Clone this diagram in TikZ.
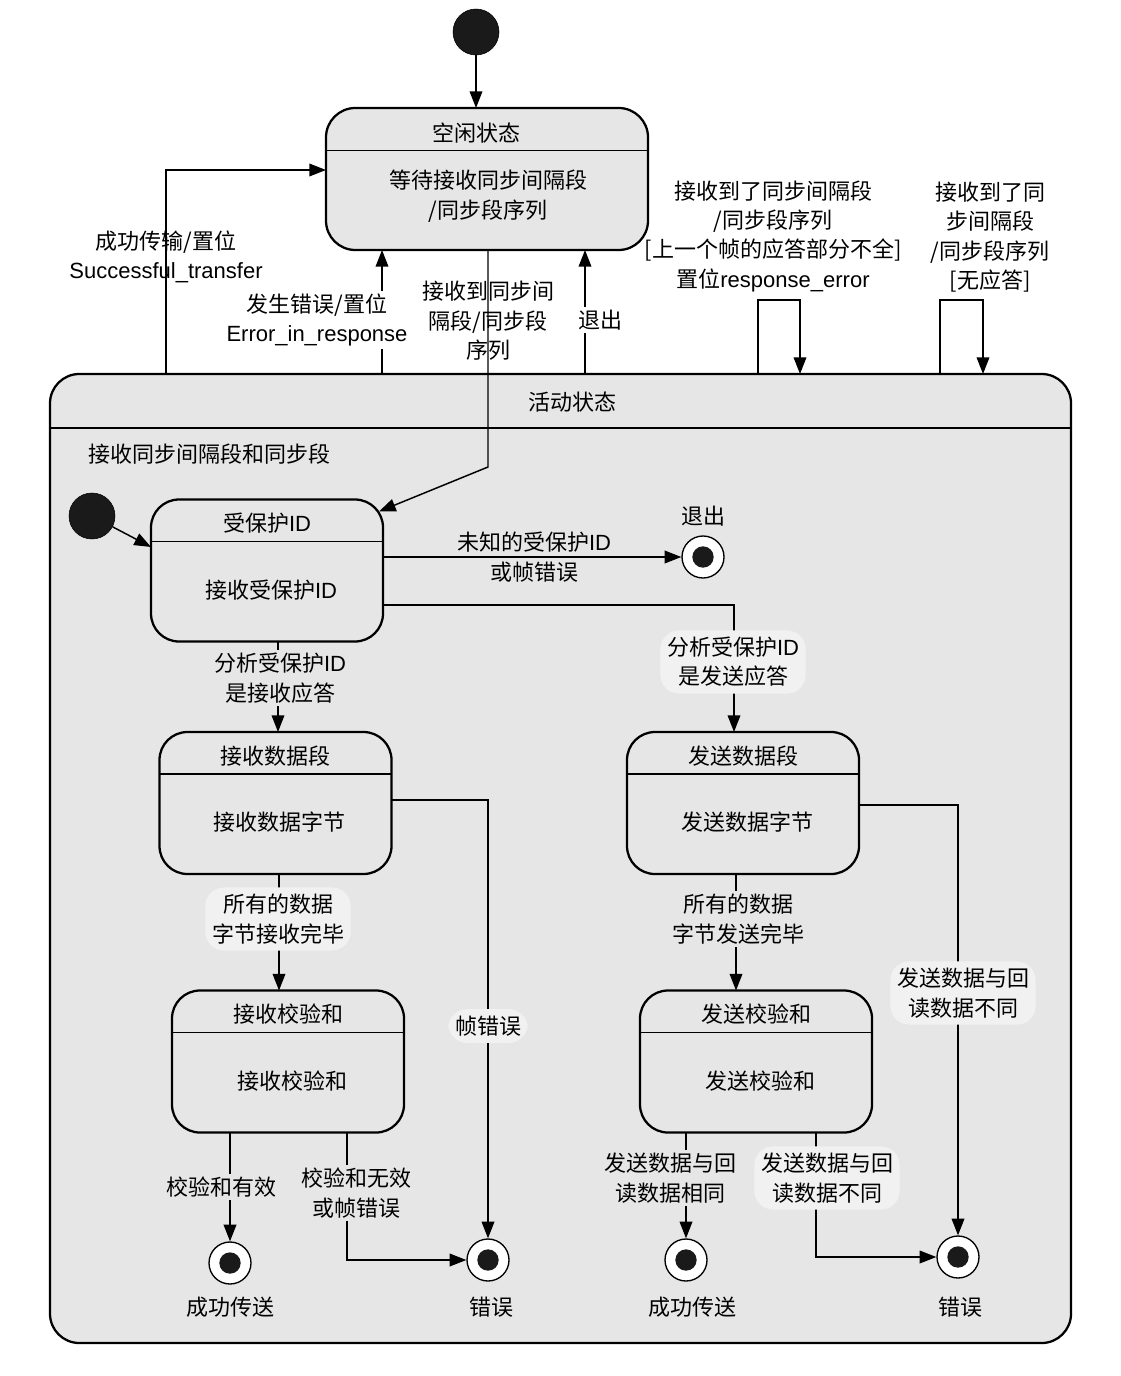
\documentclass[tikz,border=0pt]{standalone}
\usepackage{fontspec}
\setmainfont{Noto Sans CJK SC}
\newfontfamily\enfont{Liberation Sans}
\newcommand\en[1]{{\enfont #1}}
\usetikzlibrary{arrows.meta}
\definecolor{statefill}{HTML}{E6E6E6}
\definecolor{notefill}{HTML}{F1F1F1}
\definecolor{dotfill}{HTML}{1A1A1A}

% a state box: name, centre, title, body
\newcommand\statebox[4]{%
  \node[state] (#1) at (#2) {};
  \draw[line width=1pt] ([yshift=-31.5pt]#1.north west) -- ([yshift=-31.5pt]#1.north east);
  \node (#1-title) at ([yshift=-18pt]#1.north) {#3};
  \node (#1-body) at ([xshift=3pt,yshift=-14.6pt]#1.center) {#4};
}

\begin{document}
\begin{tikzpicture}
      [x=0.75pt,y=-0.75pt,
       every node/.style={font=\fontsize{16.5pt}{22pt}\selectfont,align=center,inner sep=2pt},
       state/.style={draw,line width=1.7pt,rounded corners=21pt,fill=statefill,outer sep=0pt,
                     minimum width=174pt,minimum height=106.5pt},
       start/.style={circle,draw,fill=dotfill,minimum size=34.5pt,inner sep=0pt},
       stop/.style={circle,draw,line width=1pt,fill=white,minimum size=31.5pt,inner sep=0pt,
                    path picture={\fill[dotfill] (path picture bounding box.center) circle (8pt);}},
       arr/.style={line width=1.1pt,-{Triangle[length=12.5pt,width=9.5pt]}},
       dark/.style={fill=statefill},
       pale/.style={fill=notefill,rounded corners=14pt,inner sep=5pt}]
      \useasboundingbox (0,0) rectangle (1120,1376);

      % top level
      \node[start] (init) at (476,32) {};
      \node[state,rounded corners=22pt,minimum width=241.5pt,minimum height=106.5pt] (idle) at (487,179) {};
      \draw[line width=1pt] ([yshift=-32pt]idle.north west) -- ([yshift=-32pt]idle.north east);
      \node (idle-title) at (476,133) {空闲状态};
      \node (idle-body) at (488,196) {等待接收同步间隔段\\/同步段序列};

      \node[state,rounded corners=22pt,minimum width=765.75pt,minimum height=726.75pt] (active) at (560.5,858.5) {};
      \draw[line width=1pt] ([yshift=-40.5pt]active.north west) -- ([yshift=-40.5pt]active.north east);
      \node (active-title) at (572,402) {活动状态};
      \node[anchor=west] (region) at (86,454) {接收同步间隔段和同步段};

      % inside the active state
      \node[start] (init2) at (92,516) {};
      \statebox{prot}{267,570.5}{受保护\en{ID}}{接收受保护\en{ID}}
      \statebox{recvseg}{275.5,803}{接收数据段}{接收数据字节}
      \statebox{sendseg}{743,803}{发送数据段}{发送数据字节}
      \statebox{recvck}{288,1061.5}{接收校验和}{接收校验和}
      \statebox{sendck}{756,1061.5}{发送校验和}{发送校验和}

      \foreach \n/\p in {exit1/{703,557}, ok1/{230,1263}, err1/{488,1260},
                         ok2/{686,1260}, err2/{958,1257}}
        \node[stop] (\n) at (\p) {};
      \node (exit1-lbl) at (703,516) {退出};
      \node (ok1-lbl) at (230,1307) {成功传送};
      \node (err1-lbl) at (491,1307) {错误};
      \node (ok2-lbl) at (692,1307) {成功传送};
      \node (err2-lbl) at (960,1307) {错误};

      % transitions outside
      \draw[arr] (init.south) -- (init.south |- idle.north);
      \draw[arr] (active.north -| 166,0) |- (idle.west |- 0,170);
      \draw[arr] (active.north -| 382,0) -- (idle.south -| 382,0);
      \draw[arr] (active.north -| 585,0) -- (idle.south -| 585,0);
      \draw[arr] (idle.south -| 488,0) -- (488,467) -- ([xshift=-3pt,yshift=-9pt]prot.north east);
      \draw[arr] (active.north -| 758,0) -- ++(0,-74) -| (active.north -| 800,0);
      \draw[arr] (active.north -| 940,0) -- ++(0,-74) -| (active.north -| 983,0);

      % transitions inside
      \draw[arr] (init2) -- (prot.west |- 0,547);
      \draw[arr] (prot.east |- exit1) -- (exit1);
      \draw[arr] (prot.east |- 0,605) -| ([xshift=-6.75pt]sendseg.north);
      \draw[arr] (prot.south -| 278,0) -- (recvseg.north -| 278,0);
      \draw[arr] (recvseg.south -| 279,0) -- (recvck.north -| 279,0);
      \draw[arr] (sendseg.south -| 736,0) -- (sendck.north -| 736,0);
      \draw[arr] (recvseg.east |- 0,800) -| (err1.north);
      \draw[arr] (sendseg.east |- 0,805) -| (err2.north);
      \draw[arr] (recvck.south -| ok1) -- (ok1.north);
      \draw[arr] (recvck.south -| 347,0) |- (err1.west);
      \draw[arr] (sendck.south -| ok2) -- (ok2.north);
      \draw[arr] (sendck.south -| 816,0) |- (err2.west);

      % labels
      \node (t-success) at (166,257) {成功传输/置位\\\en{Successful\_transfer}};
      \node[fill=white] (t-fail) at (317,320) {发生错误/置位\\\en{Error\_in\_response}};
      \node (t-enter) at (488,321) {接收到同步间\\隔段/同步段\\序列};
      \node[fill=white] (t-quit) at (600,320) {退出};
      \node (t-loopa) at (773,236) {接收到了同步间隔段\\/同步段序列\\{[}上一个帧的应答部分不全]\\置位\en{response\_error}};
      \node (t-loopb) at (990,237) {接收到了同\\步间隔段\\/同步段序列\\{[}无应答]};
      \node (t-unknown) at (534,557) {未知的受保护\en{ID}\\或帧错误};
      \node[dark] (t-recvack) at (280,678) {分析受保护\en{ID}\\是接收应答};
      \node[pale] (t-sendack) at (733,662) {分析受保护\en{ID}\\是发送应答};
      \node[pale] (t-recvdone) at (278,919) {所有的数据\\字节接收完毕};
      \node[dark] (t-senddone) at (738,919) {所有的数据\\字节发送完毕};
      \node[pale] (t-frame) at (488,1026) {帧错误};
      \node[pale] (t-diff1) at (963,993) {发送数据与回\\读数据不同};
      \node[dark] (t-valid) at (221,1187) {校验和有效};
      \node[dark] (t-invalid) at (356,1193) {校验和无效\\或帧错误};
      \node[dark] (t-same) at (670,1178) {发送数据与回\\读数据相同};
      \node[pale] (t-diff2) at (827,1178) {发送数据与回\\读数据不同};
    \end{tikzpicture}
\end{document}
